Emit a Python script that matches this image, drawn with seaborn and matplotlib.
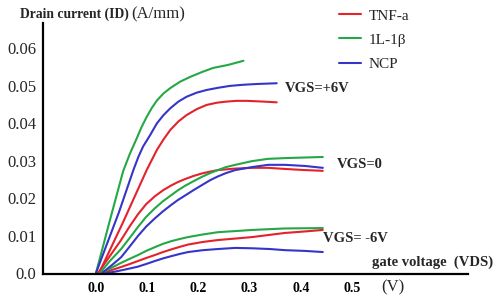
import matplotlib
matplotlib.use("Agg")
import matplotlib.pyplot as plt
import seaborn as sns
import pandas as pd

# ---------------- data ----------------
analytes = ["TNF-a", "1L-1β", "NCP"]
gate_levels = ["VGS=+6V", "VGS=0", "VGS= -6V"]
colors = {"TNF-a": "#e3222b", "1L-1β": "#24a845", "NCP": "#3535c8"}

# VGS = +6V
tnf_p6_v = [0.006, 0.053, 0.099, 0.109, 0.119, 0.132, 0.145, 0.161, 0.177, 0.197, 0.216, 0.236, 0.255, 0.275, 0.294, 0.327, 0.353]
tnf_p6_i = [0.0, 0.0136, 0.0275, 0.0302, 0.0329, 0.0357, 0.0382, 0.0405, 0.0422, 0.0438, 0.0449, 0.0455, 0.0458, 0.0460, 0.0460, 0.0458, 0.0456]
il_p6_v = [0.0, 0.027, 0.053, 0.066, 0.079, 0.089, 0.099, 0.109, 0.119, 0.132, 0.145, 0.164, 0.184, 0.207, 0.229, 0.258, 0.288]
il_p6_i = [0.0, 0.0140, 0.0272, 0.0318, 0.0358, 0.0390, 0.0417, 0.0441, 0.0461, 0.0480, 0.0494, 0.0511, 0.0524, 0.0537, 0.0548, 0.0556, 0.0567]
ncp_p6_v = [0.0, 0.045, 0.073, 0.083, 0.092, 0.106, 0.119, 0.132, 0.145, 0.161, 0.177, 0.197, 0.216, 0.239, 0.262, 0.288, 0.314, 0.353]
ncp_p6_i = [0.0, 0.0163, 0.0275, 0.0311, 0.0338, 0.0369, 0.0400, 0.0422, 0.0440, 0.0458, 0.0471, 0.0482, 0.0489, 0.0495, 0.0500, 0.0503, 0.0505, 0.0507]

# VGS = 0
tnf_0_v = [0.004, 0.027, 0.049, 0.065, 0.082, 0.098, 0.115, 0.131, 0.147, 0.160, 0.174, 0.190, 0.207, 0.223, 0.238, 0.272, 0.305, 0.336, 0.369, 0.408, 0.443]
tnf_0_i = [0.0, 0.0045, 0.0088, 0.0123, 0.0157, 0.0184, 0.0205, 0.0221, 0.0234, 0.0243, 0.0251, 0.0259, 0.0266, 0.0271, 0.0275, 0.0279, 0.0281, 0.0281, 0.0278, 0.0275, 0.0273]
il_0_v = [0.008, 0.027, 0.049, 0.066, 0.082, 0.098, 0.115, 0.131, 0.147, 0.160, 0.174, 0.190, 0.207, 0.223, 0.238, 0.254, 0.272, 0.305, 0.336, 0.369, 0.443]
il_0_i = [0.0, 0.0032, 0.0064, 0.0094, 0.0123, 0.0150, 0.0173, 0.0192, 0.0208, 0.0221, 0.0233, 0.0245, 0.0257, 0.0267, 0.0275, 0.0283, 0.0289, 0.0299, 0.0305, 0.0307, 0.0310]
ncp_0_v = [0.012, 0.031, 0.049, 0.066, 0.082, 0.098, 0.115, 0.131, 0.147, 0.160, 0.174, 0.190, 0.207, 0.223, 0.238, 0.254, 0.272, 0.305, 0.336, 0.369, 0.408, 0.443]
ncp_0_i = [0.0, 0.0021, 0.0042, 0.0071, 0.0099, 0.0124, 0.0146, 0.0165, 0.0182, 0.0195, 0.0207, 0.0221, 0.0235, 0.0248, 0.0258, 0.0267, 0.0275, 0.0283, 0.0289, 0.0289, 0.0286, 0.0281]

# VGS = -6V
tnf_m6_v = [0.014, 0.031, 0.049, 0.066, 0.082, 0.098, 0.115, 0.131, 0.147, 0.164, 0.180, 0.209, 0.238, 0.272, 0.305, 0.340, 0.369, 0.408, 0.443]
tnf_m6_i = [0.0, 0.0008, 0.0016, 0.0024, 0.0032, 0.0040, 0.0048, 0.0056, 0.0063, 0.0070, 0.0076, 0.0083, 0.0088, 0.0092, 0.0096, 0.0102, 0.0107, 0.0111, 0.0115]
il_m6_v = [0.010, 0.029, 0.049, 0.066, 0.082, 0.098, 0.115, 0.131, 0.147, 0.164, 0.180, 0.209, 0.238, 0.272, 0.305, 0.369, 0.443]
il_m6_i = [0.0, 0.0013, 0.0027, 0.0038, 0.0048, 0.0059, 0.0069, 0.0078, 0.0085, 0.0091, 0.0096, 0.0103, 0.0109, 0.0112, 0.0115, 0.0119, 0.0120]
ncp_m6_v = [0.020, 0.035, 0.049, 0.066, 0.082, 0.098, 0.115, 0.131, 0.147, 0.164, 0.180, 0.209, 0.238, 0.272, 0.305, 0.340, 0.369, 0.408, 0.443]
ncp_m6_i = [0.0, 0.0003, 0.0007, 0.0012, 0.0017, 0.0024, 0.0032, 0.0039, 0.0045, 0.0051, 0.0056, 0.0061, 0.0064, 0.0067, 0.0066, 0.0064, 0.0061, 0.0059, 0.0056]

x_ticks = [0.0, 0.1, 0.2, 0.3, 0.4, 0.5]
x_ticklabels = ["0.0", "0.1", "0.2", "0.3", "0.4", "0.5"]
y_ticks = [0.0, 0.01, 0.02, 0.03, 0.04, 0.05, 0.06]
y_ticklabels = ["0.0", "0.01", "0.02", "0.03", "0.04", "0.05", "0.06"]

series = [
    ("TNF-a", "VGS=+6V", tnf_p6_v, tnf_p6_i),
    ("1L-1β", "VGS=+6V", il_p6_v, il_p6_i),
    ("NCP", "VGS=+6V", ncp_p6_v, ncp_p6_i),
    ("TNF-a", "VGS=0", tnf_0_v, tnf_0_i),
    ("1L-1β", "VGS=0", il_0_v, il_0_i),
    ("NCP", "VGS=0", ncp_0_v, ncp_0_i),
    ("TNF-a", "VGS= -6V", tnf_m6_v, tnf_m6_i),
    ("1L-1β", "VGS= -6V", il_m6_v, il_m6_i),
    ("NCP", "VGS= -6V", ncp_m6_v, ncp_m6_i),
]
rows = []
for a, g, vs, iis in series:
    for k, (v, i) in enumerate(zip(vs, iis)):
        rows.append({"VDS": v, "ID": i, "analyte": a, "gate": g, "order": k})
df = pd.DataFrame(rows)

# ---------------- plot ----------------
sns.set_style("white")
plt.rcParams["font.family"] = ["Liberation Serif", "DejaVu Serif"]

fig = plt.figure(figsize=(5.0, 3.04), dpi=100)
ax = fig.add_axes([43 / 500, 30 / 304, 425 / 500, 251 / 304])

sns.lineplot(data=df, x="VDS", y="ID", hue="analyte", hue_order=analytes,
             units="gate", estimator=None, sort=False, palette=colors,
             linewidth=1.5, ax=ax, legend=True)
for ln in ax.get_lines():
    ln.set_solid_joinstyle("round")
    ln.set_solid_capstyle("round")

ax.set_xlim(-0.1035, 0.7266)
ax.set_ylim(-0.00027, 0.0668)
sns.despine(ax=ax)
for s in ["left", "bottom"]:
    ax.spines[s].set_linewidth(1.6)
    ax.spines[s].set_color("black")

ax.set_xticks(x_ticks)
ax.set_xticklabels(x_ticklabels, fontsize=10, fontweight="bold")
ax.set_yticks(y_ticks)
ax.set_yticklabels(y_ticklabels, fontsize=12)
ax.tick_params(axis="x", direction="in", length=4, width=1.3, pad=6, colors="black")
ax.tick_params(axis="y", length=0, pad=5)
ax.set_xlabel("")
ax.set_ylabel("")

# legend
handles, labels = ax.get_legend_handles_labels()
leg = ax.legend(handles, labels, loc="upper left",
                bbox_to_anchor=(339 / 500, 1 - 9 / 304), bbox_transform=fig.transFigure,
                frameon=False, fontsize=11, handlelength=1.45, handletextpad=0.5,
                labelspacing=0.68, borderaxespad=0, borderpad=0)

# annotations
fig.text(20 / 500, 1 - 14 / 304, "Drain current (ID)", fontsize=9.8, fontweight="bold",
         ha="left", va="center")
fig.text(131 / 500, 1 - 14 / 304, "(A/mm)", fontsize=12, ha="left", va="center")
fig.text(285 / 500, 1 - 88 / 304, "VGS=+6V", fontsize=10.5, fontweight="bold", ha="left", va="center")
fig.text(337 / 500, 1 - 165 / 304, "VGS=0", fontsize=10.5, fontweight="bold", ha="left", va="center")
fig.text(323 / 500, 1 - 239 / 304, "VGS= -6V", fontsize=10.5, fontweight="bold", ha="left", va="center")
fig.text(372 / 500, 1 - 262 / 304, "gate voltage  (VDS)", fontsize=10.5, fontweight="bold",
         ha="left", va="center")
fig.text(393 / 500, 1 - 287 / 304, "(V)", fontsize=12, ha="center", va="center")

fig.savefig("out.png", dpi=100)
